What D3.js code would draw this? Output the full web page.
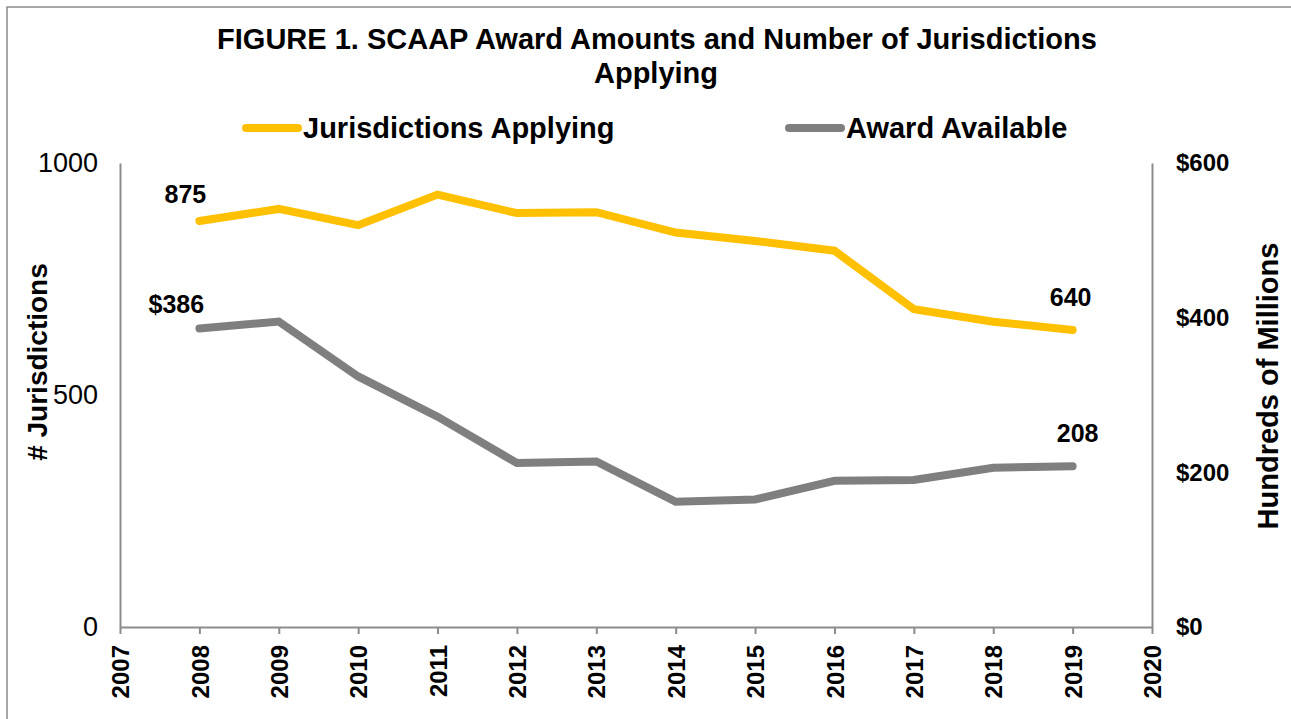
<!DOCTYPE html>
<meta charset="utf-8">
<html>

<head>
    <script src="https://d3js.org/d3.v7.min.js"></script>
    <title>SCAAP Award Amounts and Number of Jurisdictions Applying</title>
    <style>
        body { margin: 0; background: #fff; }
        svg { display: block; font-family: "Liberation Sans", Arial, sans-serif; }
    </style>
</head>

<body>
    <div id="chart"></div>

    <script>

        // data
        var years = [2008, 2009, 2010, 2011, 2012, 2013, 2014, 2015, 2016, 2017, 2018, 2019];
        var jurisdictions = [875, 901, 866, 932, 892, 894, 850, 832, 811, 685, 658, 640];
        var award = [386, 395, 324, 272, 212, 214, 162, 165, 189, 190, 206, 208];
        var leftTicks = [0, 500, 1000];
        var rightTicks = [0, 200, 400, 600];
        var xTicks = d3.range(2007, 2021);

        var W = 1291, H = 719;
        var margin = { top: 163, right: 139, bottom: 92, left: 120 };
        var width = W - margin.left - margin.right;
        var height = H - margin.top - margin.bottom;

        var gold = "#FFC000", gray = "#7F7F7F", axisColor = "#8C8C8C";

        var svg = d3.select("#chart")
            .append("svg")
            .attr("width", W)
            .attr("height", H);

        // outer frame (right and bottom edges fall outside the picture)
        svg.append("rect")
            .attr("x", 7).attr("y", 7)
            .attr("width", W + 20).attr("height", H + 20)
            .attr("fill", "none")
            .attr("stroke", "#8a8a8a")
            .attr("stroke-width", 1.5);

        // title
        var title = svg.append("text")
            .attr("text-anchor", "middle")
            .style("font-size", "29px")
            .style("font-weight", "bold");
        title.append("tspan").attr("x", 657).attr("y", 49)
            .text("FIGURE 1. SCAAP Award Amounts and Number of Jurisdictions");
        title.append("tspan").attr("x", 656).attr("y", 83)
            .text("Applying");

        var g = svg.append("g")
            .attr("transform", "translate(" + margin.left + "," + margin.top + ")");

        // scales
        var x = d3.scaleLinear().domain([2007, 2020]).range([0, width]);
        var yL = d3.scaleLinear().domain([0, 1000]).range([height, 0]);
        var yR = d3.scaleLinear().domain([0, 600]).range([height, 0]);

        // X axis
        var xAxis = g.append("g")
            .attr("transform", "translate(0," + height + ")")
            .call(d3.axisBottom(x).tickValues(xTicks).tickFormat(d3.format("d")).tickSize(7).tickSizeOuter(0));
        xAxis.selectAll("text")
            .attr("transform", "rotate(-90)")
            .attr("x", -18)
            .attr("y", 0)
            .attr("dy", "0.36em")
            .style("text-anchor", "end")
            .style("font-size", "24px")
            .style("font-weight", "bold");

        // left Y axis
        var yAxisL = g.append("g")
            .call(d3.axisLeft(yL).tickValues(leftTicks).tickFormat(d3.format("d")).tickSize(0).tickPadding(22));
        yAxisL.selectAll("text")
            .style("font-size", "27px");

        // right Y axis
        var yAxisR = g.append("g")
            .attr("transform", "translate(" + width + ",0)")
            .call(d3.axisRight(yR).tickValues(rightTicks).tickSize(0).tickPadding(24)
                .tickFormat(function (d) { return "$" + d; }));
        yAxisR.selectAll("text")
            .style("font-size", "24px")
            .style("font-weight", "bold");

        g.selectAll(".domain").attr("stroke", axisColor).attr("stroke-width", 2);
        g.selectAll(".tick line").attr("stroke", axisColor).attr("stroke-width", 2);
        g.selectAll(".tick text").attr("fill", "#000").style("font-family", "\"Liberation Sans\", Arial, sans-serif");

        // axis titles
        svg.append("text")
            .attr("transform", "translate(47,362) rotate(-90)")
            .attr("text-anchor", "middle")
            .style("font-size", "28px")
            .style("font-weight", "bold")
            .text("# Jurisdictions");
        svg.append("text")
            .attr("transform", "translate(1278,386) rotate(-90)")
            .attr("text-anchor", "middle")
            .style("font-size", "29px")
            .style("font-weight", "bold")
            .text("Hundreds of Millions");

        // lines
        var lineL = d3.line()
            .x(function (d, i) { return x(years[i]); })
            .y(function (d) { return yL(d); });
        var lineR = d3.line()
            .x(function (d, i) { return x(years[i]); })
            .y(function (d) { return yR(d); });

        g.append("path")
            .datum(award)
            .attr("d", lineR)
            .attr("fill", "none")
            .attr("stroke", gray)
            .attr("stroke-width", 8)
            .attr("stroke-linecap", "round");

        g.append("path")
            .datum(jurisdictions)
            .attr("d", lineL)
            .attr("fill", "none")
            .attr("stroke", gold)
            .attr("stroke-width", 8)
            .attr("stroke-linecap", "round");

        // data labels on first and last points
        var last = years.length - 1;
        var labels = [
            { x: x(years[0]), y: yL(jurisdictions[0]), text: jurisdictions[0], dx: -14, dy: -18 },
            { x: x(years[last]), y: yL(jurisdictions[last]), text: jurisdictions[last], dx: -2, dy: -24 },
            { x: x(years[0]), y: yR(award[0]), text: "$" + award[0], dx: -23, dy: -15 },
            { x: x(years[last]), y: yR(award[last]), text: award[last], dx: 5, dy: -24 }
        ];
        g.selectAll(".dlabel")
            .data(labels)
            .enter()
            .append("text")
            .attr("class", "dlabel")
            .attr("x", function (d) { return d.x + d.dx; })
            .attr("y", function (d) { return d.y + d.dy; })
            .attr("text-anchor", "middle")
            .style("font-size", "25px")
            .style("font-weight", "bold")
            .text(function (d) { return d.text; });

        // legend
        var legend = [
            { name: "Jurisdictions Applying", color: gold, x: 246 },
            { name: "Award Available", color: gray, x: 789 }
        ];
        var lg = svg.selectAll(".legend")
            .data(legend)
            .enter()
            .append("g")
            .attr("class", "legend")
            .attr("transform", function (d) { return "translate(" + d.x + ",128)"; });
        lg.append("line")
            .attr("x1", 0).attr("x2", 52)
            .attr("stroke", function (d) { return d.color; })
            .attr("stroke-width", 8)
            .attr("stroke-linecap", "round");
        lg.append("text")
            .attr("x", 57)
            .attr("y", 10)
            .style("font-size", "29px")
            .style("font-weight", "bold")
            .text(function (d) { return d.name; });

    </script>

</body>

</html>
